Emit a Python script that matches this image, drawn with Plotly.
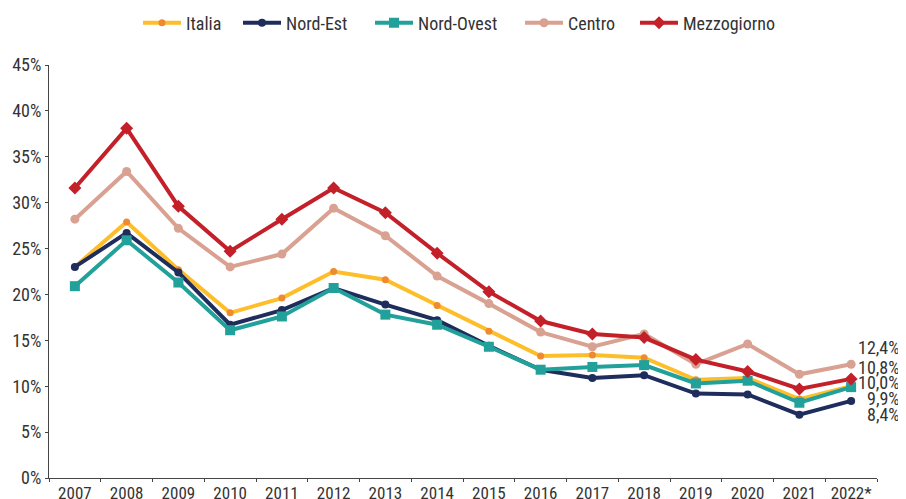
import plotly.graph_objects as go

PCT = chr(37)

years = ["2007", "2008", "2009", "2010", "2011", "2012", "2013", "2014",
         "2015", "2016", "2017", "2018", "2019", "2020", "2021", "2022*"]

italia = [23.0, 27.9, 22.7, 18.0, 19.6, 22.5, 21.6, 18.8, 16.0, 13.3, 13.4, 13.1, 10.7, 10.9, 8.6, 10.0]
nord_est = [23.0, 26.7, 22.4, 16.7, 18.3, 20.7, 18.9, 17.2, 14.4, 11.8, 10.9, 11.2, 9.2, 9.1, 6.9, 8.4]
nord_ovest = [20.9, 25.9, 21.3, 16.1, 17.6, 20.7, 17.8, 16.7, 14.3, 11.8, 12.1, 12.3, 10.3, 10.6, 8.2, 9.9]
centro = [28.2, 33.4, 27.2, 23.0, 24.4, 29.4, 26.4, 22.0, 19.0, 15.9, 14.3, 15.7, 12.4, 14.6, 11.3, 12.4]
mezzogiorno = [31.6, 38.1, 29.6, 24.7, 28.2, 31.6, 28.9, 24.5, 20.3, 17.1, 15.7, 15.3, 12.9, 11.6, 9.7, 10.8]

y_ticks = [0, 5, 10, 15, 20, 25, 30, 35, 40, 45]
y_ticktext = [f"{t}{PCT}" for t in y_ticks]

FONT = "Roboto Condensed, Liberation Sans Narrow, Roboto, sans-serif"
TXT = "#333333"
AX = "#444444"

series = [
    ("Italia", italia, "#FDBE2A", dict(symbol="circle", size=7, color="#F08A30"), 47),
    ("Nord-Est", nord_est, "#1F2D5C", dict(symbol="circle", size=8, color="#1F2D5C"), 79),
    ("Nord-Ovest", nord_ovest, "#22A09A", dict(symbol="square", size=10, color="#22A09A"), 97),
    ("Centro", centro, "#D9A191", dict(symbol="circle", size=9, color="#D9A191"), 62),
    ("Mezzogiorno", mezzogiorno, "#C3202A", dict(symbol="diamond", size=10, color="#C3202A"), 100),
]

fig = go.Figure()
for name, vals, col, mk, lw in series:
    fig.add_trace(go.Scatter(x=years, y=vals, name=name, mode="lines+markers",
                             line=dict(color=col, width=4), marker=mk, legendwidth=lw))

# end labels
end_labels = [(centro, -17), (mezzogiorno, -11), (italia, -4), (nord_ovest, 11), (nord_est, 14)]
for vals, shift in end_labels:
    v = vals[-1]
    txt = f"{v:.1f}".replace(".", ",") + PCT
    fig.add_annotation(x=years[-1], y=v, text=txt,
                       showarrow=False, xanchor="right", xshift=51, yshift=-shift,
                       font=dict(family=FONT, size=18, color=TXT))

fig.update_layout(
    width=898, height=491,
    margin=dict(l=41, r=29, t=56.5, b=21.3),
    plot_bgcolor="white", paper_bgcolor="white",
    font=dict(family=FONT, size=18, color=TXT),
    showlegend=True,
    legend=dict(orientation="h", x=(138 - 8) / 898, xanchor="left", xref="container",
                y=1 - (23 - 8) / 491, yanchor="middle", yref="container",
                font=dict(family=FONT, size=18, color=TXT),
                itemwidth=38, traceorder="normal"),
    xaxis=dict(type="category", range=[-0.5, 15.5], tickson="boundaries",
               ticks="outside", ticklen=3, tickcolor=AX, showline=True,
               linecolor=AX, linewidth=1, showgrid=False, automargin=False,
               tickangle=0,
               tickfont=dict(family=FONT, size=17, color=TXT)),
    yaxis=dict(range=[0, 45], tickvals=y_ticks, ticktext=y_ticktext, ticks="outside",
               ticklen=3, tickcolor=AX, showline=True, linecolor=AX,
               linewidth=1, showgrid=False, zeroline=False, automargin=False,
               tickfont=dict(family=FONT, size=18, color=TXT)),
)

fig.write_html("out.html")
